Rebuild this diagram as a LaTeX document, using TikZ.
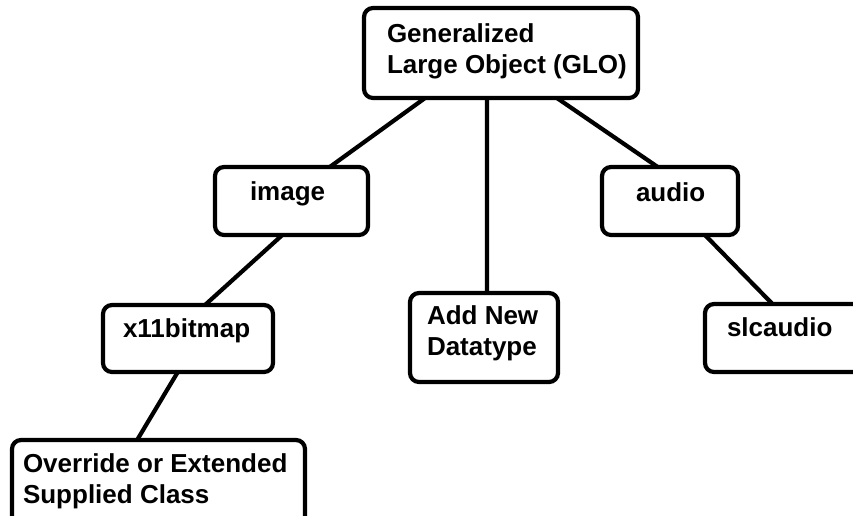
\documentclass[tikz,border=0pt]{standalone}
\usepackage{fontspec}
\setmainfont{Liberation Sans}
\usetikzlibrary{calc}

\tikzset{
  box/.style={draw=black, line width=4.2pt, rounded corners=9pt, fill=white,
              inner sep=0pt, outer sep=0pt},
  lbl/.style={inner sep=0pt, outer sep=0pt, anchor=base west, align=left,
              font=\fontsize{26}{31}\selectfont\bfseries},
  link/.style={draw=black, line width=4.2pt}
}

% box given by its left, top, right and bottom edges
\newcommand\classbox[5]{%
  \node[box, minimum width={#4-#2}, minimum height={#5-#3}]
    (#1) at ({(#2+#4)/2},{(#3+#5)/2}) {};}

\begin{document}
\begin{tikzpicture}[x=1pt, y=-1pt]
  \path[use as bounding box] (0,0) rectangle (853,515);
  \clip (0,0) rectangle (853,515);

  % class boxes
  \classbox{glo}{364}{8}{638}{98}
  \classbox{image}{215}{167}{368}{235}
  \classbox{audio}{602}{167}{738}{235}
  \classbox{addnew}{410}{293}{558}{382}
  \classbox{xbitmap}{103}{305}{273}{372}
  \classbox{slcaudio}{705}{304}{862}{372}
  \classbox{override}{12}{440}{305}{532}

  % labels (base = baseline of the last line)
  \node[lbl] (glo-text) at (387,73) {Generalized\\Large Object (GLO)};
  \node[lbl] (image-text) at (250,200) {image};
  \node[lbl] (audio-text) at (636,201) {audio};
  \node[lbl] (addnew-text) at (427,355) {Add New\\Datatype};
  \node[lbl] (xbitmap-text) at (123,337) {x11bitmap};
  \node[lbl] (slcaudio-text) at (727,336) {slcaudio};
  \node[lbl] (override-text) at (23,503) {Override or Extended\\Supplied Class};

  % inheritance links
  \draw[link] ($(glo.south west)!0.223!(glo.south east)$)
           -- ($(image.north west)!0.75!(image.north east)$);
  \draw[link] ($(glo.south west)!0.449!(glo.south east)$)
           -- ($(addnew.north west)!0.52!(addnew.north east)$);
  \draw[link] ($(glo.south west)!0.704!(glo.south east)$)
           -- ($(audio.north west)!0.41!(audio.north east)$);
  \draw[link] ($(image.south west)!0.44!(image.south east)$)
           -- ($(xbitmap.north west)!0.6!(xbitmap.north east)$);
  \draw[link] ($(audio.south west)!0.757!(audio.south east)$)
           -- ($(slcaudio.north west)!0.43!(slcaudio.north east)$);
  \draw[link] ($(xbitmap.south west)!0.44!(xbitmap.south east)$)
           -- ($(override.north west)!0.427!(override.north east)$);
\end{tikzpicture}
\end{document}
